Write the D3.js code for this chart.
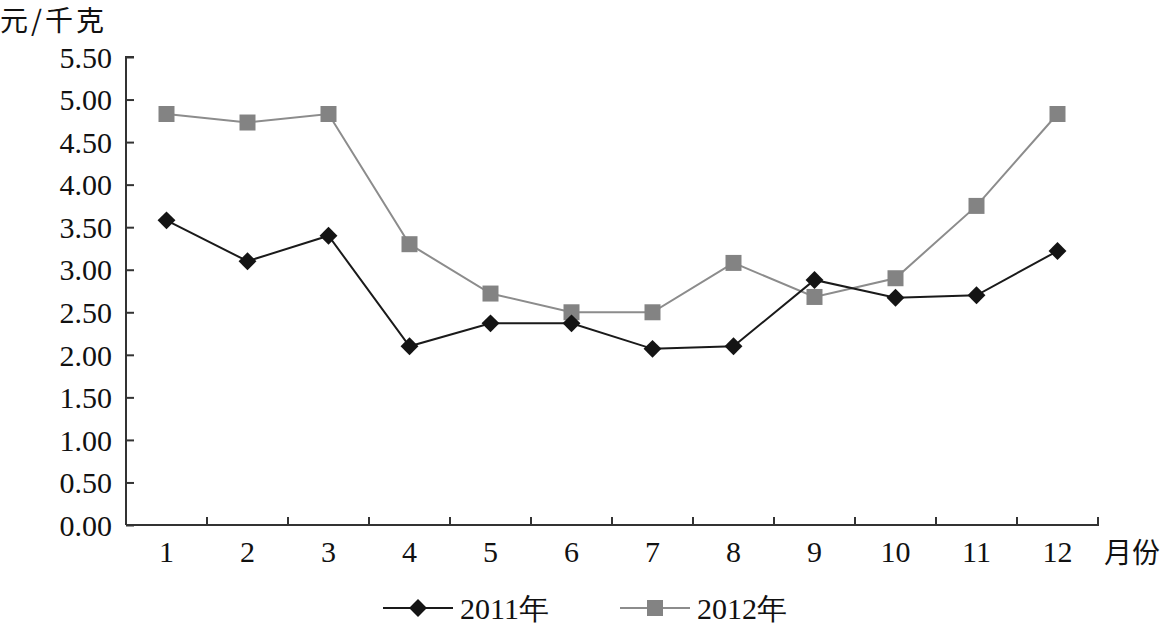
<!DOCTYPE html>
<html><head><meta charset="utf-8">
<script src="https://cdn.jsdelivr.net/npm/d3@7"></script>
<style>html,body{margin:0;padding:0;background:#fff;}svg{display:block;}</style>
</head><body>
<svg id="c" width="1168" height="626"></svg>
<script>
const months = ["1","2","3","4","5","6","7","8","9","10","11","12"];
const s2011 = [3.58, 3.10, 3.40, 2.10, 2.37, 2.37, 2.07, 2.10, 2.88, 2.67, 2.70, 3.22];
const s2012 = [4.83, 4.73, 4.83, 3.30, 2.72, 2.50, 2.50, 3.08, 2.68, 2.90, 3.75, 4.83];
const yTicks = [0,0.5,1,1.5,2,2.5,3,3.5,4,4.5,5,5.5];
const seriesNames = ["2011年","2012年"];

const svg = d3.select("#c");
const serif = "Liberation Serif, Times New Roman, serif";
const cjk = "Noto Sans CJK SC, sans-serif";
const x = d3.scaleBand().domain(months).range([126,1098]).paddingInner(0).paddingOuter(0);
const y = d3.scaleLinear().domain([0,5.5]).range([525,57]);
const axisColor = "#333";

// y axis
const ya = svg.append("g").attr("transform","translate(126,0)")
  .call(d3.axisRight(y).tickValues(yTicks).tickSize(8).tickFormat(d3.format(".2f")));
ya.attr("font-family",serif);
ya.select(".domain").attr("stroke",axisColor).attr("stroke-width",2).attr("d","M8,57H0V525");
ya.selectAll(".tick line").attr("stroke",axisColor).attr("stroke-width",2);
ya.selectAll(".tick text").attr("x",-14).attr("text-anchor","end").attr("dy","0.34em")
  .attr("font-family",serif).style("font-size","30px").attr("fill","#111");

// x axis
const xa = svg.append("g").attr("transform","translate(0,525)")
  .call(d3.axisBottom(x).tickSize(0).tickPadding(28));
xa.attr("font-family",serif);
xa.select(".domain").attr("stroke",axisColor).attr("stroke-width",2).attr("d","M126,0H1098V-8");
xa.selectAll(".tick text").attr("font-family",serif).style("font-size","30px").attr("fill","#111").attr("dy","0.3em");
const bounds = months.slice(1).map(m => x(m));
xa.selectAll(".bt").data(bounds).enter().append("line")
  .attr("x1",d=>d).attr("x2",d=>d).attr("y1",0).attr("y2",-8)
  .attr("stroke",axisColor).attr("stroke-width",2);

svg.append("text").attr("x",1104).attr("y",553).attr("dy","0.35em")
  .attr("font-family",cjk).style("font-size","28px").attr("fill","#111").text("月份");
svg.append("text").attr("x",0).attr("y",21).attr("dy","0.35em")
  .attr("font-family",cjk).style("font-size","28px").style("letter-spacing","3px").attr("fill","#111").text("元/千克");

const cx = m => x(m) + x.bandwidth()/2;
const line = d3.line().x((d,i)=>cx(months[i])).y(d=>y(d));

svg.append("path").datum(s2012).attr("d",line).attr("fill","none").attr("stroke","#8c8c8c").attr("stroke-width",2);
svg.append("path").datum(s2011).attr("d",line).attr("fill","none").attr("stroke","#1a1a1a").attr("stroke-width",2);

const diamond = d3.symbol().type(d3.symbolSquare).size(160);
const square = d3.symbol().type(d3.symbolSquare).size(256);
svg.selectAll(".m12").data(s2012).enter().append("path")
  .attr("d",square).attr("fill","#838383")
  .attr("transform",(d,i)=>`translate(${cx(months[i])},${y(d)})`);
svg.selectAll(".m11").data(s2011).enter().append("path")
  .attr("d",diamond).attr("fill","#141414")
  .attr("transform",(d,i)=>`translate(${cx(months[i])},${y(d)}) rotate(45)`);

// legend
const lg = svg.append("g");
const ly = 608;
lg.append("line").attr("x1",383).attr("x2",453).attr("y1",ly).attr("y2",ly).attr("stroke","#1a1a1a").attr("stroke-width",2);
lg.append("path").attr("d",diamond).attr("fill","#141414").attr("transform",`translate(418,${ly}) rotate(45)`);
lg.append("text").attr("x",460).attr("y",ly).attr("dy","0.35em").attr("font-family",serif).style("font-size","30px").attr("fill","#111").text(seriesNames[0]);
lg.append("line").attr("x1",620).attr("x2",690).attr("y1",ly).attr("y2",ly).attr("stroke","#8c8c8c").attr("stroke-width",2);
lg.append("path").attr("d",square).attr("fill","#838383").attr("transform",`translate(655,${ly})`);
lg.append("text").attr("x",697).attr("y",ly).attr("dy","0.35em").attr("font-family",serif).style("font-size","30px").attr("fill","#111").text(seriesNames[1]);
</script>
</body></html>
